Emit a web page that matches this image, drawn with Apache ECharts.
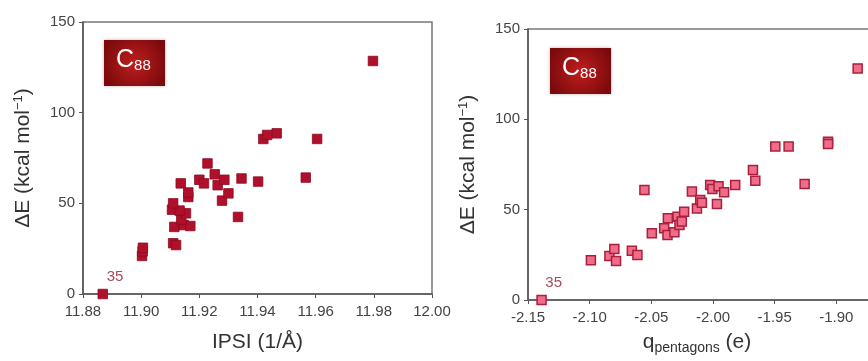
<html>
<head>
<meta charset="UTF-8">
<title>C88 ΔE</title>
<script src="https://cdn.jsdelivr.net/npm/echarts@6/dist/echarts.min.js"></script>
<style>
html, body { margin: 0; padding: 0; background: #fff; }
#main { width: 868px; height: 361px; }
</style>
</head>
<body>
<div id="main"></div>
<script>
// left panel: IPSI (1/Å) vs ΔE
var ipsiX = [11.8868, 11.9003, 11.9005, 11.9006, 11.9110, 11.9120, 11.9114, 11.9146, 11.9169,
  11.9138, 11.9154, 11.9106, 11.9132, 11.9110, 11.9162, 11.9162, 11.9136, 11.9200, 11.9216,
  11.9228, 11.9253, 11.9263, 11.9286, 11.9278, 11.9300, 11.9333, 11.9345, 11.9402, 11.9420,
  11.9433, 11.9466, 11.9566, 11.9605, 11.9797];
var ipsiE = [0, 21, 23.5, 25.5, 28, 27, 37, 38, 37.5,
  41, 44.5, 46.5, 46, 50, 53.5, 56, 61, 63, 61,
  72, 66, 60, 63, 51.5, 55.5, 42.5, 63.7, 62, 85.5,
  87.7, 88.6, 64.2, 85.5, 128.5];

// right panel: q_pentagons (e) vs ΔE
var qX = [-2.139, -2.099, -2.084, -2.080, -2.0786, -2.0658, -2.0613, -2.0556, -2.0496,
  -2.0396, -2.0369, -2.0366, -2.0313, -2.0288, -2.0272, -2.0253, -2.0234, -2.0171, -2.0130,
  -2.0104, -2.0090, -2.0023, -2.0005, -1.9955, -1.9910, -1.9968, -1.9820, -1.9676, -1.9657,
  -1.9495, -1.9387, -1.9257, -1.9067, -1.9067, -1.8827];
var qE = [0, 22, 24.4, 28.2, 21.6, 27.3, 24.9, 60.9, 36.9,
  39.7, 36, 45.2, 37.5, 46.1, 41.5, 43.4, 48.9, 60, 50.7,
  55.3, 53.8, 63.7, 61.5, 63, 59.6, 53.2, 63.6, 72, 66,
  85, 85, 64.2, 87.6, 86.4, 128.2];

var yTicks = [0, 150, 50];          // min, max, interval
var ipsiTicks = [11.88, 12.00, 0.02];
var qTicks = [-2.15, -1.85, 0.05];

var labelNo = '35';

function pairs(xs, ys){
  var out = [];
  for (var i = 0; i < xs.length; i++) {
    out.push([xs[i], ys[i]]);
  }
  // the lowest isomer gets its number
  out[0] = { value: out[0], label: { show: true, formatter: labelNo, position: [9, -19],
    color: '#a8485a', fontSize: 15, fontFamily: 'Liberation Sans' } };
  return out;
}

var font = 'Liberation Sans, Arial, sans-serif';

function xAxisOf(idx, ticks, name, pad, gap){
  return {
    gridIndex: idx, type: 'value',
    min: ticks[0], max: ticks[1], interval: ticks[2],
    name: name, nameLocation: 'middle', nameGap: gap,
    nameTextStyle: { color: '#333', fontSize: 21, fontFamily: font, padding: pad,
      rich: { sub: { fontSize: 14, color: '#333', padding: [11, 0, 0, 0], fontFamily: font } } },
    axisLine: { lineStyle: { color: '#555', width: 1.5 } },
    axisTick: { show: true, length: 4, lineStyle: { color: '#555' } },
    axisLabel: { color: '#444', fontSize: 15, fontFamily: font, margin: 10,
      formatter: function(v){ return v.toFixed(2); } },
    splitLine: { show: false }
  };
}

function yAxisOf(idx){
  return {
    gridIndex: idx, type: 'value',
    min: yTicks[0], max: yTicks[1], interval: yTicks[2],
    name: '{a|ΔE (kcal mol}{sup|−1}{a|)}', nameLocation: 'middle', nameGap: 48,
    nameTextStyle: { color: '#333', fontFamily: font,
      rich: { a: { fontSize: 21, color: '#333', fontFamily: font },
              sup: { fontSize: 13, color: '#333', fontFamily: font, padding: [0, 0, 10, 0] } } },
    axisLine: { show: true, lineStyle: { color: '#555', width: 1.5 } },
    axisTick: { show: true, length: 4, lineStyle: { color: '#555' } },
    axisLabel: { color: '#444', fontSize: 15, fontFamily: font, margin: 8 },
    splitLine: { show: false }
  };
}

function c88Box(left, top){
  return {
    type: 'group', left: left, top: top,
    children: [
      { type: 'rect', shape: { width: 61, height: 46 },
        style: { fill: new echarts.graphic.RadialGradient(0.5, 0.5, 0.7, [
          { offset: 0, color: '#c01e1e' }, { offset: 1, color: '#7c0a0c' }]),
          shadowBlur: 3, shadowColor: 'rgba(0,0,0,0.3)' } },
      { type: 'text', left: 12, top: 8,
        style: { text: '{c|C}{s|88}', rich: {
          c: { fontSize: 25, fill: '#fff', fontFamily: font },
          s: { fontSize: 15, fill: '#fff', fontFamily: font, padding: [11, 0, 0, 0] } } } }
    ]
  };
}

var myChart = echarts.init(document.getElementById('main'));
var option = {
  animation: false,
  backgroundColor: '#fff',
  grid: [
    { left: 83, top: 22, right: 436, bottom: 67, show: true, borderColor: '#777', borderWidth: 1.5,
      outerBoundsMode: 'none' },
    // right panel runs past the picture edge, as in the original crop
    { left: 528, top: 29, width: 370, bottom: 61, show: true, borderColor: '#777', borderWidth: 1.5,
      outerBoundsMode: 'none' }
  ],
  xAxis: [
    xAxisOf(0, ipsiTicks, 'IPSI (1/Å)', [0, 0, 0, 0], 38),
    xAxisOf(1, qTicks, 'q{sub|pentagons} (e)', [0, 32, 0, 0], 30)
  ],
  yAxis: [yAxisOf(0), yAxisOf(1)],
  series: [
    { type: 'scatter', xAxisIndex: 0, yAxisIndex: 0, symbol: 'rect', symbolSize: 9.5,
      itemStyle: { color: '#b0102c', borderColor: '#8c0a20', borderWidth: 0.8, opacity: 1 },
      data: pairs(ipsiX, ipsiE) },
    { type: 'scatter', xAxisIndex: 1, yAxisIndex: 1, symbol: 'rect', symbolSize: 9,
      itemStyle: { color: '#f06c88', borderColor: '#a8203c', borderWidth: 1.5, opacity: 1 },
      data: pairs(qX, qE) }
  ],
  graphic: [c88Box(104, 40), c88Box(550, 48)]
};
myChart.setOption(option);
</script>
</body>
</html>
